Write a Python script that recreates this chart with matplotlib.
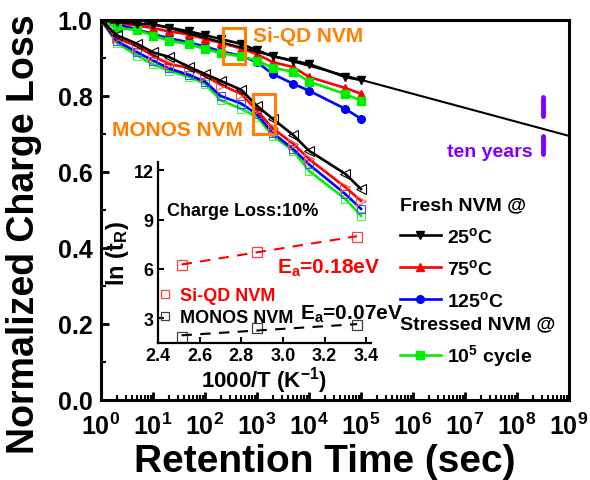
import matplotlib
matplotlib.use("Agg")
import matplotlib.pyplot as plt
import numpy as np
from matplotlib.lines import Line2D
from matplotlib.patches import Rectangle
from matplotlib.ticker import LogLocator, MultipleLocator, NullFormatter, FormatStrFormatter

plt.rcParams["font.family"] = ["Liberation Sans", "DejaVu Sans"]
plt.rcParams["font.weight"] = "bold"
plt.rcParams["mathtext.fontset"] = "custom"
plt.rcParams["mathtext.rm"] = "Liberation Sans:bold"
plt.rcParams["mathtext.bf"] = "Liberation Sans:bold"
plt.rcParams["mathtext.it"] = "Liberation Sans:bold"
plt.rcParams["mathtext.default"] = "bf"

ORANGE = "#ff8000"
PURPLE = "#8000ff"
GREEN = "#00ee00"

# tempos de retenção (s)
t = [1, 2, 5, 10, 20, 50, 100, 200, 500, 1e3, 2e3, 5e3, 1e4, 5e4, 1e5]

# Si-QD NVM (marcadores cheios)
sqd_25c = [1.0, 0.995, 0.99, 0.988, 0.98, 0.97, 0.96, 0.95, 0.937, 0.92, 0.905, 0.893, 0.884, 0.85, 0.842]
sqd_75c = [1.0, 0.993, 0.985, 0.979, 0.97, 0.962, 0.95, 0.94, 0.925, 0.91, 0.889, 0.876, 0.85, 0.821, 0.806]
sqd_125c = [1.0, 0.989, 0.975, 0.963, 0.952, 0.941, 0.93, 0.918, 0.905, 0.889, 0.858, 0.832, 0.814, 0.766, 0.74]
sqd_cycled = [1.0, 0.978, 0.974, 0.959, 0.946, 0.936, 0.924, 0.913, 0.904, 0.893, 0.874, 0.864, 0.838, 0.805, 0.788]

# MONOS NVM (marcadores abertos)
monos_25c = [1.0, 0.96, 0.937, 0.915, 0.903, 0.876, 0.858, 0.84, 0.816, 0.774, 0.74, 0.697, 0.656, 0.595, 0.555]
monos_75c = [1.0, 0.953, 0.93, 0.906, 0.884, 0.874, 0.853, 0.83, 0.805, 0.762, 0.715, 0.674, 0.634, 0.56, 0.524]
monos_125c = [1.0, 0.945, 0.915, 0.893, 0.873, 0.855, 0.838, 0.8, 0.78, 0.752, 0.703, 0.66, 0.62, 0.542, 0.503]
monos_cycled = [1.0, 0.94, 0.906, 0.883, 0.867, 0.85, 0.832, 0.789, 0.766, 0.745, 0.695, 0.656, 0.603, 0.529, 0.485]

# extrapolação (reta em log t) da Si-QD a 25 C
fit_t = [1, 1e9]
fit_y = [1.027, 0.695]

# marcador de dez anos
ten_years_s = 3.15e8
ten_years_segments = [(0.797, 0.747), (0.695, 0.647)]

# caixas laranja (t0, t1, y0, y1)
boxes = [(219, 589, 0.884, 0.978), (838, 2230, 0.70, 0.805)]

# inset: ln(t_R) vs 1000/T para perda de carga de 10%
inv_T = [2.513, 2.873, 3.356]
ln_tr_sqd = [6.24, 7.06, 7.97]
ln_tr_monos = [1.89, 2.39, 2.59]

fig = plt.figure(figsize=(5.9, 4.81), dpi=100)
ax = fig.add_axes([101 / 590, 80 / 481, 468 / 590, 380 / 481])

lw = 1.9
h25, = ax.plot(t, sqd_25c, "-v", color="black", lw=lw, ms=6, zorder=5)
h75, = ax.plot(t, sqd_75c, "-^", color="red", lw=lw, ms=6, zorder=4)
h125, = ax.plot(t, sqd_125c, "-o", color="blue", lw=lw, ms=5.5, zorder=3)
hcyc, = ax.plot(t, sqd_cycled, "-s", color=GREEN, lw=lw, ms=5.5, zorder=4)

ax.plot(t, monos_25c, "-<", color="black", lw=lw, ms=7, mfc="none", mew=0.8, zorder=5)
ax.plot(t, monos_75c, "->", color="red", lw=lw, ms=7, mfc="none", mew=0.8, mec="#ff5050", zorder=4)
ax.plot(t, monos_125c, "-s", color="blue", lw=lw, ms=6, mfc="none", mew=0.8, mec="#5050ff", zorder=3)
ax.plot(t, monos_cycled, "-s", color=GREEN, lw=lw, ms=6, mfc="none", mew=0.8, mec="#40ff40", zorder=2)

ax.plot(fit_t, fit_y, "-", color="black", lw=1.5, zorder=6)

for y0, y1 in ten_years_segments:
    ax.plot([ten_years_s, ten_years_s], [y0, y1], color=PURPLE, lw=3.5, solid_capstyle="round")
ax.text(2.0e8, 0.653, "ten years", color=PURPLE, fontsize=14, fontweight="bold", ha="right", va="center")

for t0, t1, y0, y1 in boxes:
    ax.add_patch(Rectangle((t0, y0), t1 - t0, y1 - y0, fill=False, ec=ORANGE, lw=2.2, zorder=7))
ax.text(840, 0.958, "Si-QD NVM", color=ORANGE, fontsize=15, fontweight="bold", va="center")
ax.text(1.63, 0.713, "MONOS NVM", color=ORANGE, fontsize=15, fontweight="bold", va="center")

ax.set_xscale("log")
ax.set_xlim(1, 1e9)
ax.set_ylim(0, 1.0)
ax.xaxis.set_major_locator(LogLocator(base=10, numticks=12))
ax.xaxis.set_minor_locator(LogLocator(base=10, subs=np.arange(2, 10), numticks=12))
ax.xaxis.set_minor_formatter(NullFormatter())
ax.yaxis.set_major_locator(MultipleLocator(0.2))
ax.yaxis.set_minor_locator(MultipleLocator(0.1))
ax.yaxis.set_major_formatter(FormatStrFormatter("%.1f"))
ax.tick_params(which="major", direction="in", length=6, width=2, labelsize=18, pad=6)
ax.tick_params(axis="x", which="major", pad=9)
ax.tick_params(which="minor", direction="in", length=3.5, width=1.5)
for s in ax.spines.values():
    s.set_linewidth(2.2)
ax.set_xlabel("Retention Time (sec)", fontsize=28, fontweight="bold")
ax.set_ylabel("Normalized Charge Loss", fontsize=27, fontweight="bold")
ax.xaxis.set_label_coords(0.479, -0.113)
ax.yaxis.set_label_coords(-0.126, 0.44)

leg1 = ax.legend([h25, h75, h125], ["25$^{o}$C", "75$^{o}$C", "125$^{o}$C"],
                 title="Fresh NVM @", alignment="left", loc="upper left",
                 bbox_to_anchor=(0.639, 0.535), frameon=False, fontsize=14,
                 title_fontproperties={"size": 14, "weight": "bold"},
                 handlelength=2.1, handletextpad=0.3, labelspacing=0.62,
                 borderpad=0, borderaxespad=0, numpoints=1)
ax.add_artist(leg1)
ax.legend([hcyc], ["10$^{5}$ cycle"], title="Stressed NVM @", alignment="left",
          loc="upper left", bbox_to_anchor=(0.639, 0.222), frameon=False, fontsize=14,
          title_fontproperties={"size": 14, "weight": "bold"},
          handlelength=2.1, handletextpad=0.3, borderpad=0, borderaxespad=0, numpoints=1)

# inset
axi = fig.add_axes([158 / 590, 137 / 481, 212.5 / 590, 181 / 481])
axi.set_facecolor("none")
axi.plot(inv_T, ln_tr_sqd, "s", color="red", ms=7, mfc="none", mew=0.9, mec="#ff4040")
axi.plot(inv_T, ln_tr_monos, "s", color="black", ms=7, mfc="none", mew=0.9, mec="#404040")
for yv, col in [(ln_tr_sqd, "red"), (ln_tr_monos, "black")]:
    k, b = np.polyfit(inv_T, yv, 1)
    xx = np.array([inv_T[0], inv_T[-1]])
    axi.plot(xx, k * xx + b, "--", color=col, lw=1.5, dashes=(5, 4))

axi.set_xlim(2.4, 3.42)
axi.set_ylim(1.5, 12.5)
axi.xaxis.set_major_locator(MultipleLocator(0.2))
axi.yaxis.set_major_locator(MultipleLocator(3))
axi.xaxis.set_major_formatter(FormatStrFormatter("%.1f"))
axi.tick_params(direction="in", length=4, width=1.5, labelsize=13, pad=3)
axi.spines["top"].set_visible(False)
axi.spines["right"].set_visible(False)
for s in ("left", "bottom"):
    axi.spines[s].set_linewidth(1.6)
axi.set_xlabel("1000/T (K$^{-1}$)", fontsize=16, fontweight="bold", labelpad=0)
axi.set_ylabel("ln (t$_{R}$)", fontsize=17, fontweight="bold", labelpad=2)

axi.text(2.443, 9.55, "Charge Loss:10%", fontsize=13, fontweight="bold", va="center")
axi.text(2.971, 5.8, "E$_{a}$=0.18eV", color="red", fontsize=15, fontweight="bold")
axi.text(3.082, 3.0, "E$_{a}$=0.07eV", color="black", fontsize=15, fontweight="bold")

proxies = [Line2D([], [], ls="none", marker="s", ms=6, mfc="none", mec="#ff4040", mew=0.9),
           Line2D([], [], ls="none", marker="s", ms=6, mfc="none", mec="#404040", mew=0.9)]
axi.legend(proxies, ["Si-QD NVM", "MONOS NVM"], labelcolor=["red", "black"],
           loc="upper left", bbox_to_anchor=(0.0, 0.31), frameon=False, fontsize=13,
           handlelength=0.8, handletextpad=0.4, labelspacing=0.3, borderpad=0,
           borderaxespad=0, numpoints=1)

fig.savefig("out.png", dpi=100)
